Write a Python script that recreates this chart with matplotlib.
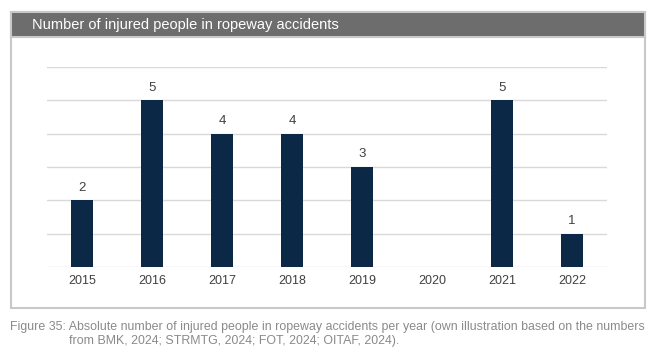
import matplotlib.pyplot as plt
from matplotlib.patches import Rectangle

years = ['2015', '2016', '2017', '2018', '2019', '2020', '2021', '2022']
injured = [2, 5, 4, 4, 3, 0, 5, 1]

plt.rcParams['font.family'] = ['Liberation Sans', 'DejaVu Sans']

fig = plt.figure(figsize=(6.56, 3.63), dpi=100)
W, H = 656, 363


def fx(px):
    return px / W


def fy(py):
    return 1 - py / H


# outer frame and title bar
fig.patches.append(Rectangle((fx(11), fy(308)), fx(634), (308 - 12) / H,
                             transform=fig.transFigure, facecolor='white',
                             edgecolor='#c8c8c8', linewidth=1.5, zorder=0))
fig.patches.append(Rectangle((fx(11), fy(37)), fx(634), 25 / H,
                             transform=fig.transFigure, facecolor='#6d6d6d',
                             edgecolor='#c8c8c8', linewidth=1.5, zorder=1))
fig.text(fx(32), fy(24.5), 'Number of injured people in ropeway accidents',
         color='white', fontsize=10.5, va='center', ha='left')

ax = fig.add_axes([fx(47), fy(267), fx(560), 200 / H])
ax.set_zorder(5)
x = range(len(years))
bars = ax.bar(x, injured, width=0.31, color='#0b2846', zorder=3)
for xi, v in zip(x, injured):
    if v > 0:
        ax.text(xi, v + 0.2, str(v), ha='center', va='bottom',
                fontsize=9.5, color='#404040')

ax.set_xlim(-0.5, len(years) - 0.5)
ax.set_ylim(0, 6)
ax.set_yticks(range(7))
ax.set_yticklabels([])
ax.yaxis.grid(True, color='#d9d9d9', linewidth=1)
ax.set_xticks(list(x))
ax.set_xticklabels(years, fontsize=9, color='#404040')
ax.tick_params(length=0, pad=6)
for s in ax.spines.values():
    s.set_visible(False)
ax.set_facecolor('none')

fig.text(fx(10), fy(327), 'Figure 35: Absolute number of injured people in ropeway accidents '
         'per year (own illustration based on the numbers',
         color='#8a8a8a', fontsize=8.95, va='center', ha='left')
fig.text(fx(69), fy(341), 'from BMK, 2024; STRMTG, 2024; FOT, 2024; OITAF, 2024).',
         color='#8a8a8a', fontsize=8.95, va='center', ha='left')

fig.savefig('out.png', dpi=100)
